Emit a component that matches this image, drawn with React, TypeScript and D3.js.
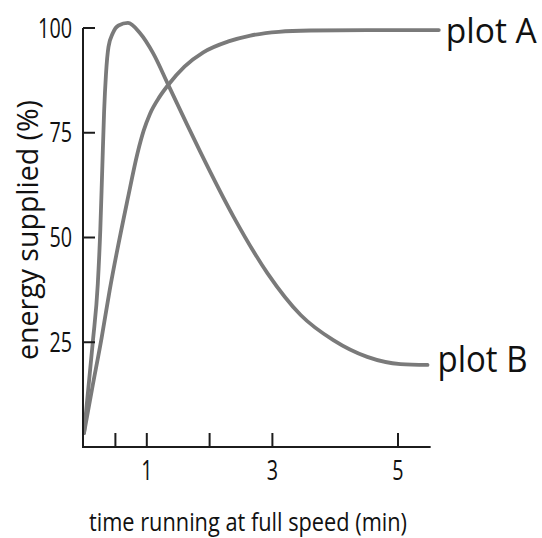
import React from "react";
import * as d3 from "d3";

const plotATime = [0, 0.13, 0.28, 0.41, 0.7, 0.85, 0.95, 1.05, 1.2, 1.34, 1.6, 1.9, 2.3, 2.65, 3.1, 3.6, 4.5, 5.65];
const plotAValue = [3.3, 14, 26, 37.5, 59.5, 70, 75.5, 79.5, 83.5, 86.4, 90.8, 94.2, 96.8, 98.2, 99.1, 99.4, 99.5, 99.5];

const plotBTime = [0, 0.14, 0.22, 0.26, 0.29, 0.32, 0.35, 0.39, 0.46, 0.55, 0.7, 0.89, 1.1, 1.34, 1.64, 1.85, 2.38, 2.92, 3.45, 3.97, 4.51, 5.04, 5.47];
const plotBValue = [3.3, 25, 39, 52, 66, 80, 89, 95.5, 98.8, 100.6, 101.2, 98.8, 94, 86.5, 77, 70.5, 55, 41.5, 31.5, 25.5, 21.5, 19.8, 19.6];

const xTicks = [0.5, 1, 2, 3, 5];
const xTickLabels = [1, 3, 5];
const yTicks = [25, 50, 75, 100];
const yTickLabels = ["25", "50", "75", "100"];
const xAxisMax = 5.52;

const xTitle = "time running at full speed (min)";
const yTitle = "energy supplied (%)";
const seriesLabels = ["plot A", "plot B"];

const W = 542;
const H = 538;
const FONT = "'Open Sans', 'Noto Sans', sans-serif";

export default function App() {
  const x = d3.scaleLinear().domain([0, 5]).range([84, 398]);
  const y = d3.scaleLinear().domain([0, 100]).range([447, 28]);

  const line = d3
    .line<[number, number]>()
    .x((d) => x(d[0]))
    .y((d) => y(d[1]))
    .curve(d3.curveMonotoneX);

  const dataA: [number, number][] = plotATime.map((t, i) => [t, plotAValue[i]]);
  const dataB: [number, number][] = plotBTime.map((t, i) => [t, plotBValue[i]]);

  const axisColor = "#1c1c1c";
  const curveColor = "#7a7a7a";
  const digitW = 11.3;

  const lastA = dataA[dataA.length - 1];
  const lastB = dataB[dataB.length - 1];

  return (
    <svg
      width={W}
      height={H}
      style={{ position: "absolute", left: 0, top: 0, background: "#fff" }}
      fontFamily={FONT}
    >
      {/* curves */}
      <path d={line(dataA) || ""} fill="none" stroke={curveColor} strokeWidth={3.8} strokeLinecap="round" strokeLinejoin="round" />
      <path d={line(dataB) || ""} fill="none" stroke={curveColor} strokeWidth={3.8} strokeLinecap="round" strokeLinejoin="round" />

      {/* y axis */}
      <line x1={x(0) - 1} x2={x(0) - 1} y1={y(0)} y2={y(100)} stroke={axisColor} strokeWidth={2} />
      {yTicks.map((t) => (
        <line key={"yt" + t} x1={x(0) - 1} x2={x(0) + 11} y1={y(t)} y2={y(t)} stroke={axisColor} strokeWidth={2} />
      ))}
      {yTicks.map((t, i) => {
        const len = yTickLabels[i].length * digitW;
        return (
          <text
            key={"yl" + t}
            x={72 - len}
            y={y(t) + 9.5}
            fontSize={27}
            fill="#111"
            textLength={len}
            lengthAdjust="spacingAndGlyphs"
          >
            {yTickLabels[i]}
          </text>
        );
      })}

      {/* x axis */}
      <line x1={x(0) - 2} x2={x(xAxisMax)} y1={y(0)} y2={y(0)} stroke={axisColor} strokeWidth={2} />
      {xTicks.map((t) => (
        <line key={"xt" + t} x1={x(t)} x2={x(t)} y1={y(0)} y2={y(0) - 14} stroke={axisColor} strokeWidth={2} />
      ))}
      {xTickLabels.map((t) => {
        const len = String(t).length * digitW;
        return (
          <text
            key={"xl" + t}
            x={x(t) - len / 2}
            y={480}
            fontSize={27}
            fill="#111"
            textLength={len}
            lengthAdjust="spacingAndGlyphs"
          >
            {t}
          </text>
        );
      })}

      {/* axis titles */}
      <text x={89} y={531} fontSize={25} fill="#111" textLength={318} lengthAdjust="spacingAndGlyphs">
        {xTitle}
      </text>
      <text
        transform={`translate(38, 360) rotate(-90)`}
        x={0}
        y={0}
        fontSize={30}
        fill="#111"
        textLength={260}
        lengthAdjust="spacingAndGlyphs"
      >
        {yTitle}
      </text>

      {/* series labels */}
      <text x={x(lastA[0]) + 7} y={43} fontSize={35} fill="#111" textLength={91} lengthAdjust="spacingAndGlyphs">
        {seriesLabels[0]}
      </text>
      <text x={x(lastB[0]) + 10} y={372} fontSize={36} fill="#111" textLength={90} lengthAdjust="spacingAndGlyphs">
        {seriesLabels[1]}
      </text>
    </svg>
  );
}
